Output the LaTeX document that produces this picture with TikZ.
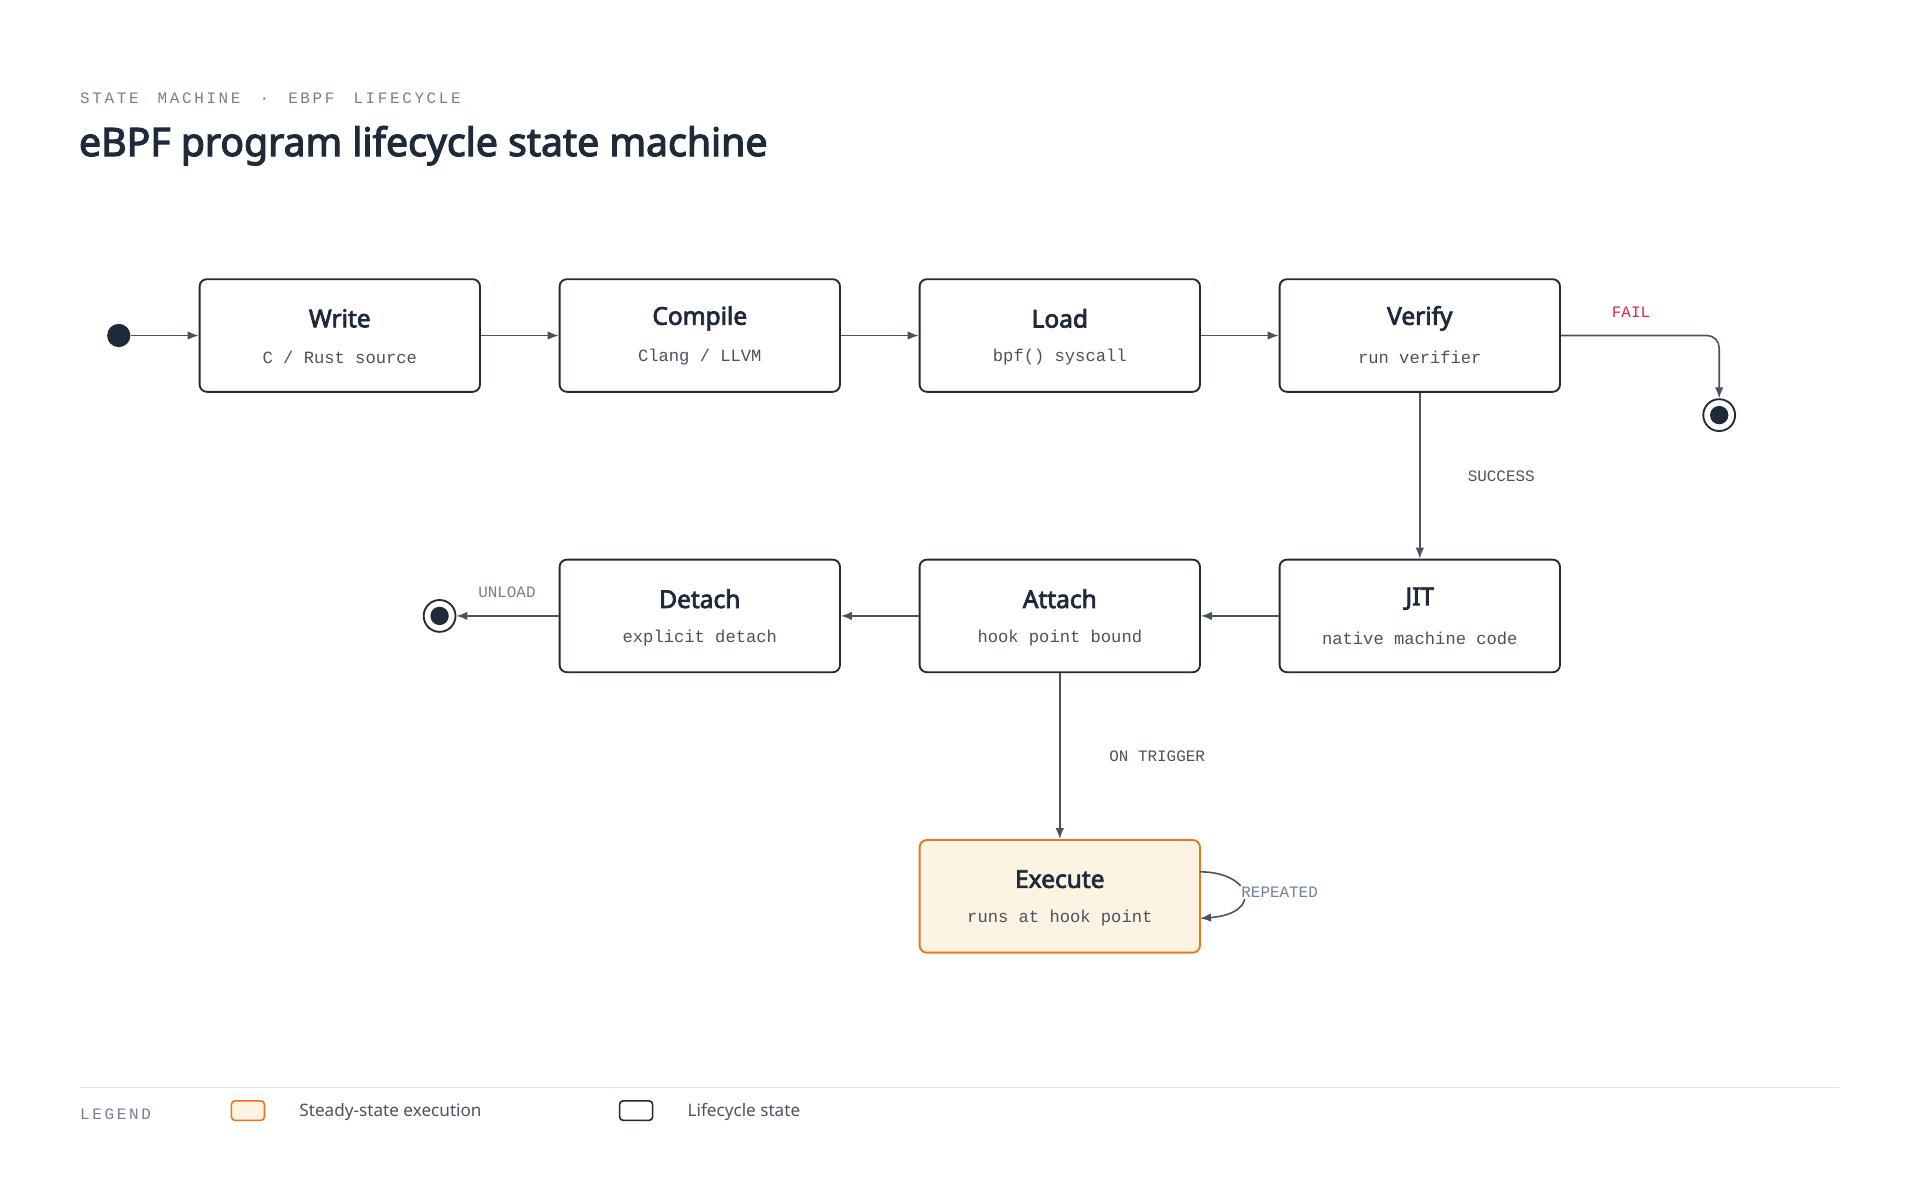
\documentclass[tikz,border=0pt]{standalone}
\usepackage{fontspec}
\setmainfont{Noto Sans}[AutoFakeBold=3]
\newfontfamily\mono{Liberation Mono}
\usetikzlibrary{arrows.meta}
\definecolor{ink}{HTML}{1E2A3A}
\definecolor{edge}{HTML}{4A5260}
\definecolor{muted}{HTML}{718096}
\definecolor{orng}{HTML}{E8741E}
\definecolor{cream}{HTML}{FDF3E3}
\definecolor{failred}{HTML}{E0234E}
\begin{document}
\begin{tikzpicture}[x=1pt,y=-1pt,
  st/.style={draw=ink,line width=1.5pt,rounded corners=6pt,minimum width=229pt,minimum height=92pt,fill=white,align=center,inner sep=0pt},
  ttl/.style={font=\bfseries\fontsize{20}{22}\selectfont,text=ink},
  sub/.style={font=\mono\fontsize{14}{16}\selectfont,text=edge},
  ar/.style={draw=edge,line width=1.3pt,-{Latex[length=9pt,width=7pt]}},
  lab/.style={font=\mono\fontsize{13}{15}\selectfont,text=edge},
  fin/.style={circle,draw=ink,line width=1.5pt,minimum size=26pt,inner sep=0pt,fill=white}]
\useasboundingbox (0,0) rectangle (1568,980);
\node[anchor=west,font=\mono\fontsize{13}{15}\selectfont,text=muted] (kick) at (62,80) {S\,T\,A\,T\,E\ \ M\,A\,C\,H\,I\,N\,E\ \ ·\ \ E\,B\,P\,F\ \ L\,I\,F\,E\,C\,Y\,C\,L\,E};
\node[anchor=west,font=\bfseries\fontsize{32}{36}\selectfont,text=ink] (title) at (61,119) {eBPF program lifecycle state machine};

\newcommand{\stnode}[5]{\node[st,#5] (#1) at (#2) {};
  \node[ttl] (#1t) at ([yshift=14pt]#1.center) {#3};
  \node[sub] (#1s) at ([yshift=-18pt]#1.center) {#4};}
\stnode{write}{277.5,274}{Write}{C / Rust source}{}
\stnode{compile}{571.5,274}{Compile}{Clang / LLVM}{}
\stnode{load}{865.5,274}{Load}{bpf() syscall}{}
\stnode{verify}{1159.5,274}{Verify}{run verifier}{}
\stnode{detach}{571.5,503}{Detach}{explicit detach}{}
\stnode{attach}{865.5,503}{Attach}{hook point bound}{}
\stnode{jit}{1159.5,503}{JIT}{native machine code}{}
\stnode{exec}{865.5,732}{Execute}{runs at hook point}{draw=orng,fill=cream}

\node[circle,fill=ink,minimum size=19pt,inner sep=0pt] (init) at (97,274) {};
\node[fin] (fail) at (1404,339) {};
\node[circle,fill=ink,minimum size=15pt,inner sep=0pt] (failin) at (fail) {};
\node[fin] (unl) at (359,503) {};
\node[circle,fill=ink,minimum size=15pt,inner sep=0pt] (unlin) at (unl) {};

\draw[ar] (init) -- (write);
\draw[ar] (write) -- (compile);
\draw[ar] (compile) -- (load);
\draw[ar] (load) -- (verify);
\draw[ar,rounded corners=10pt] (verify.east) -- (fail.center |- verify.east) -- (fail.north);
\draw[ar] (verify) -- (jit);
\draw[ar] (jit) -- (attach);
\draw[ar] (attach) -- (detach);
\draw[ar] (detach) -- (unl);
\draw[ar] (attach) -- (exec);
\draw[ar] (980,712) coordinate (lp1) .. controls (1022,712) and (1032,746) .. (980,750);

\node[lab,text=failred] (lfail) at (1332,255) {FAIL};
\node[lab] (lsucc) at (1226,389) {SUCCESS};
\node[lab,text=muted] (lunl) at (414,484) {UNLOAD};
\node[lab] (ltrig) at (945,618) {ON TRIGGER};
\node[lab,text=muted,fill=white,inner sep=1pt] (lrep) at (1045,729) {REPEATED};

\draw[draw=black!12,line width=1pt] (65,888) coordinate (l1) -- (1502,888) coordinate (l2);
\node[anchor=west,font=\mono\fontsize{13}{15}\selectfont,text=muted] (leg) at (62,910) {L\,E\,G\,E\,N\,D};
\node[draw=orng,fill=cream,line width=1.3pt,rounded corners=3pt,minimum width=27pt,minimum height=16pt,inner sep=0pt] (sw1) at (202.5,907) {};
\node[anchor=west,font=\fontsize{14}{16}\selectfont,text=edge] (lg1) at (241,908) {Steady-state execution};
\node[draw=ink,fill=white,line width=1.3pt,rounded corners=3pt,minimum width=27pt,minimum height=16pt,inner sep=0pt] (sw2) at (519.5,907) {};
\node[anchor=west,font=\fontsize{14}{16}\selectfont,text=edge] (lg2) at (558,908) {Lifecycle state};
\end{tikzpicture}
\end{document}
